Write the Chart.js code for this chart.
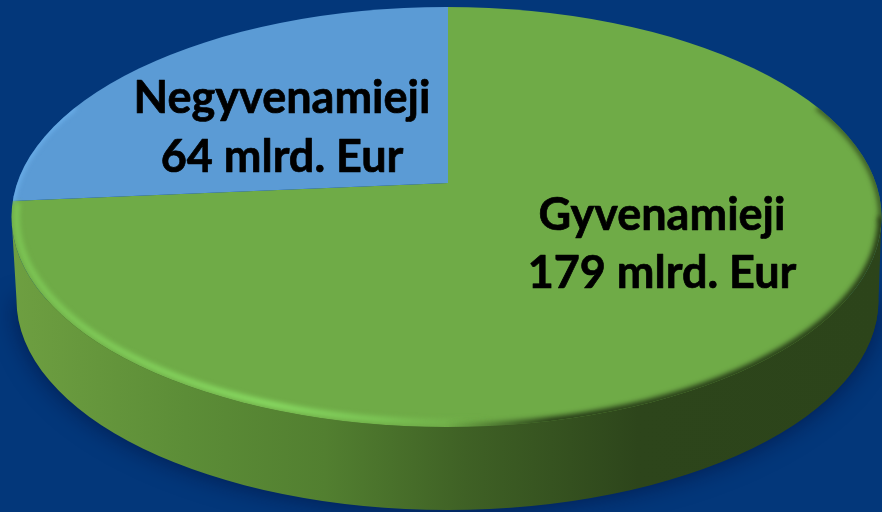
<!DOCTYPE html>
<html>
<head>
<meta charset="utf-8">
<style>
html,body{margin:0;padding:0;background:#03377A;overflow:hidden}
#wrap{width:882px;height:512px;position:relative}
canvas{display:block}
</style>
<script src="https://cdn.jsdelivr.net/npm/chart.js@4"></script>
</head>
<body>
<div id="wrap"><canvas id="c" width="882" height="512"></canvas></div>
<script>
const categories = ["Gyvenamieji", "Negyvenamieji"];
const values = [179, 64];
const unit = "mlrd. Eur";
const colors = ["#6FAB47", "#5B9BD5"];

const face = {cx: 446.5, cy: 217, rx: 435, ry: 210};
const base = {cx: 447.5, cy: 300, rx: 431, ry: 210};
const apex = {x: 448, y: 183};
const tilt = 0.49, zoom = 2.25;
const labelPos = [{x: 662, y: 230, dy: 58}, {x: 282, y: 113, dy: 59}];
const labelFont = 'bold 45px Lato, "Open Sans", sans-serif';

function faceEllipse(ctx, shrink, from, to) {
  ctx.beginPath();
  ctx.ellipse(face.cx, face.cy, face.rx - shrink, face.ry - shrink, 0, from, to);
}

const pie3d = {
  id: "pie3d",
  beforeDatasetsDraw(chart) {
    const ctx = chart.ctx;
    ctx.save();
    // soft ground shadow
    ctx.shadowColor = "rgba(0,10,50,0.6)";
    ctx.shadowBlur = 24;
    ctx.shadowOffsetY = 1;
    ctx.beginPath();
    ctx.ellipse(base.cx, base.cy, base.rx, base.ry - 1, 0, 0, Math.PI);
    ctx.fillStyle = "#2c441a";
    ctx.fill();
    ctx.shadowColor = "transparent";
    // side wall
    const g = ctx.createLinearGradient(12, 0, 882, 0);
    g.addColorStop(0, "#6E9F41");
    g.addColorStop(0.2, "#5C8D37");
    g.addColorStop(0.36, "#527F30");
    g.addColorStop(0.52, "#3F6125");
    g.addColorStop(0.72, "#2D451B");
    g.addColorStop(1, "#2C441A");
    ctx.fillStyle = g;
    ctx.beginPath();
    ctx.ellipse(base.cx, base.cy, base.rx, base.ry, 0, 0, Math.PI);
    ctx.lineTo(face.cx - face.rx, face.cy);
    ctx.ellipse(face.cx, face.cy, face.rx, face.ry, 0, Math.PI, 0, true);
    ctx.closePath();
    ctx.fill();
    ctx.restore();

    // top face: the apex of the slices sits above the ellipse centre
    const arc = chart.getDatasetMeta(0).data[0];
    ctx.save();
    faceEllipse(ctx, 0, 0, Math.PI * 2);
    ctx.clip();
    ctx.translate(apex.x, apex.y);
    ctx.scale(zoom, zoom * tilt);
    ctx.translate(-arc.x, -arc.y);
  },
  afterDatasetsDraw(chart) {
    const ctx = chart.ctx;
    ctx.restore();

    // bevel along the rim of the top face
    ctx.save();
    faceEllipse(ctx, 0, 0, Math.PI * 2);
    ctx.clip();

    const lit = ctx.createLinearGradient(12, 0, 882, 0);
    lit.addColorStop(0, "rgba(126,200,86,0.9)");
    lit.addColorStop(0.3, "rgba(138,222,100,1)");
    lit.addColorStop(0.42, "rgba(128,206,90,0.85)");
    lit.addColorStop(0.55, "rgba(120,190,80,0)");
    lit.addColorStop(1, "rgba(120,190,80,0)");
    ctx.filter = "blur(2.5px)";
    ctx.strokeStyle = lit;
    ctx.lineWidth = 6;
    faceEllipse(ctx, 5, 1.2, Math.PI + 0.07);
    ctx.stroke();

    const dark = ctx.createLinearGradient(12, 0, 882, 0);
    dark.addColorStop(0, "rgba(40,62,24,0)");
    dark.addColorStop(0.5, "rgba(40,62,24,0)");
    dark.addColorStop(0.62, "rgba(40,62,24,1)");
    dark.addColorStop(1, "rgba(40,62,24,1)");
    ctx.strokeStyle = dark;
    ctx.lineWidth = 8;
    faceEllipse(ctx, 0, 0, Math.PI / 2);
    ctx.stroke();
    ctx.lineWidth = 6;
    ctx.strokeStyle = "rgba(40,62,24,0.75)";
    faceEllipse(ctx, 0, -0.55, 0.02);
    ctx.stroke();

    ctx.strokeStyle = "rgba(115,185,245,0.8)";
    ctx.lineWidth = 4;
    faceEllipse(ctx, 0, Math.PI + 0.07, Math.PI + 0.55);
    ctx.stroke();
    ctx.restore();

    // labels
    ctx.save();
    ctx.font = labelFont;
    ctx.fillStyle = "#000";
    ctx.strokeStyle = "#000";
    ctx.lineWidth = 0.7;
    ctx.lineJoin = "round";
    ctx.textAlign = "center";
    ctx.textBaseline = "alphabetic";
    categories.forEach((name, i) => {
      const p = labelPos[i];
      [name, values[i] + " " + unit].forEach((t, k) => {
        ctx.fillText(t, p.x, p.y + k * p.dy);
        ctx.strokeText(t, p.x, p.y + k * p.dy);
      });
    });
    ctx.restore();
  }
};

new Chart(document.getElementById("c"), {
  type: "pie",
  data: {
    labels: categories,
    datasets: [{data: values, backgroundColor: colors, borderWidth: 0, hoverOffset: 0}]
  },
  options: {
    responsive: false,
    animation: false,
    layout: {padding: 0},
    plugins: {legend: {display: false}, tooltip: {enabled: false}}
  },
  plugins: [pie3d]
});
</script>
</body>
</html>
